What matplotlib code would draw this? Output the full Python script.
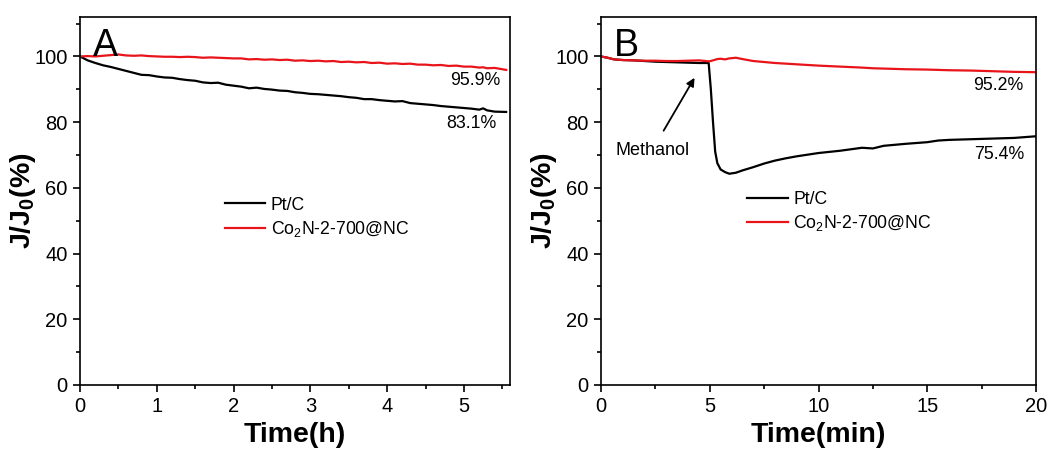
import matplotlib
matplotlib.use("Agg")
import matplotlib.pyplot as plt

plt.rcParams['font.family'] = ['Liberation Sans', 'DejaVu Sans']
plt.rcParams['mathtext.fontset'] = 'custom'
plt.rcParams['mathtext.rm'] = 'Liberation Sans'
plt.rcParams['mathtext.it'] = 'Liberation Sans:italic'
plt.rcParams['mathtext.bf'] = 'Liberation Sans:bold'

# Panel A: long-term stability (hours)
time_a = [0.0, 0.1, 0.2, 0.3, 0.4, 0.5, 0.6, 0.7, 0.8, 0.9, 1.0, 1.1, 1.2, 1.3, 1.4,
          1.5, 1.6, 1.7, 1.8, 1.9, 2.0, 2.1, 2.2, 2.3, 2.4, 2.5, 2.6, 2.7, 2.8, 2.9,
          3.0, 3.1, 3.2, 3.3, 3.4, 3.5, 3.6, 3.7, 3.8, 3.9, 4.0, 4.1, 4.2, 4.3, 4.4,
          4.5, 4.6, 4.7, 4.8, 4.9, 5.0, 5.1, 5.2, 5.25, 5.3, 5.4, 5.55]
ptc_a = [100.0, 98.8, 98.0, 97.3, 96.8, 96.2, 95.6, 95.0, 94.4, 94.3, 93.9, 93.6, 93.5,
         93.1, 92.8, 92.6, 92.1, 91.9, 92.0, 91.4, 91.1, 90.8, 90.3, 90.5, 90.1, 89.9,
         89.6, 89.5, 89.1, 88.9, 88.6, 88.5, 88.3, 88.1, 87.9, 87.6, 87.4, 87.0, 87.0,
         86.7, 86.5, 86.3, 86.4, 85.8, 85.6, 85.4, 85.2, 84.9, 84.7, 84.5, 84.3, 84.1,
         83.8, 84.2, 83.6, 83.2, 83.1]
co2n_a = [100.0, 100.1, 100.0, 100.2, 100.4, 100.6, 100.3, 100.2, 100.3, 100.1, 100.0,
          99.9, 99.9, 99.8, 99.9, 99.8, 99.6, 99.7, 99.6, 99.5, 99.4, 99.4, 99.1, 99.2,
          99.0, 99.1, 98.9, 99.0, 98.7, 98.8, 98.6, 98.7, 98.5, 98.6, 98.3, 98.4, 98.2,
          98.3, 98.0, 98.1, 97.8, 97.9, 97.7, 97.8, 97.5, 97.5, 97.3, 97.4, 97.1, 97.2,
          96.9, 96.9, 96.6, 96.7, 96.4, 96.5, 95.9]

# Panel B: methanol tolerance (minutes)
time_b = [0.0, 0.3, 0.6, 1.0, 1.5, 2.0, 2.5, 3.0, 3.5, 4.0, 4.5, 4.95, 5.05, 5.15,
          5.25, 5.35, 5.5, 5.7, 5.9, 6.2, 6.5, 7.0, 7.5, 8.0, 8.5, 9.0, 9.5, 10.0,
          11.0, 12.0, 12.5, 13.0, 14.0, 15.0, 15.5, 16.0, 17.0, 18.0, 19.0, 20.0]
ptc_b = [100.0, 99.6, 99.1, 98.9, 98.8, 98.6, 98.4, 98.3, 98.2, 98.1, 98.0, 98.0, 90.0,
         80.0, 71.0, 67.5, 65.6, 64.8, 64.3, 64.6, 65.3, 66.3, 67.4, 68.3, 69.0, 69.6,
         70.1, 70.6, 71.3, 72.2, 72.0, 72.8, 73.4, 73.9, 74.4, 74.6, 74.8, 75.0, 75.2,
         75.7]
co2n_b = [100.0, 99.6, 99.1, 98.9, 98.8, 98.7, 98.7, 98.6, 98.6, 98.7, 98.8, 98.5, 98.6,
          98.8, 99.0, 99.2, 99.3, 99.1, 99.4, 99.6, 99.2, 98.6, 98.3, 98.0, 97.8, 97.6,
          97.4, 97.2, 96.9, 96.6, 96.4, 96.3, 96.1, 96.0, 95.9, 95.8, 95.7, 95.5, 95.3,
          95.2]

final_a = ["95.9%", "83.1%"]
final_b = ["95.2%", "75.4%"]
series_names = ["Pt/C", "Co$_2$N-2-700@NC"]

fig = plt.figure(figsize=(10.51, 4.53), dpi=100)
ax_a = fig.add_axes([80 / 1051, 68 / 453, 430 / 1051, 368 / 453])
ax_b = fig.add_axes([601 / 1051, 68 / 453, 435 / 1051, 368 / 453])


def style_axis(ax, xmax, xmajor, xminor, xlabel, letter):
    ax.set_ylim(0, 112)
    ax.set_xlim(0, xmax)
    ax.set_yticks(range(0, 101, 20))
    ax.set_yticks(range(10, 111, 20), minor=True)
    ax.set_xticks(xmajor)
    ax.set_xticks(xminor, minor=True)
    ax.tick_params(which='both', direction='out', top=False, right=False,
                   labelsize=14.5, width=1.2, pad=4)
    ax.tick_params(which='major', length=5)
    ax.tick_params(which='minor', length=3)
    for s in ax.spines.values():
        s.set_linewidth(1.2)
    ax.set_xlabel(xlabel, fontsize=20.5, fontweight='bold', labelpad=4)
    ax.set_ylabel(r'$\mathbf{J/J_0(\%)}$', fontsize=20.5, labelpad=-3)
    ax.text(0.03, 0.97, letter, transform=ax.transAxes, fontsize=27,
            va='top', ha='left')


ax_a.plot(time_a, ptc_a, color='black', lw=1.6, label=series_names[0])
ax_a.plot(time_a, co2n_a, color='#e8141a', lw=1.6, label=series_names[1])
style_axis(ax_a, 5.6, range(0, 6), [0.5 + i for i in range(6)], 'Time(h)', 'A')
ax_a.text(5.15, 92.7, final_a[0], fontsize=12.8, ha='center', va='center')
ax_a.text(5.1, 79.6, final_a[1], fontsize=12.8, ha='center', va='center')
ax_a.legend(loc='upper left', bbox_to_anchor=(0.3, 0.555), frameon=False,
            fontsize=12.7, handlelength=2.3, handletextpad=0.3, labelspacing=0.3)

ax_b.plot(time_b, ptc_b, color='black', lw=1.6, label=series_names[0])
ax_b.plot(time_b, co2n_b, color='#e8141a', lw=1.6, label=series_names[1])
style_axis(ax_b, 20, range(0, 21, 5), [2.5, 7.5, 12.5, 17.5], 'Time(min)', 'B')
ax_b.text(18.25, 91.0, final_b[0], fontsize=12.8, ha='center', va='center')
ax_b.text(18.3, 70.2, final_b[1], fontsize=12.8, ha='center', va='center')
ax_b.annotate('Methanol', xy=(4.3, 93.5), xytext=(2.35, 71.4), fontsize=13,
              ha='center', va='center',
              arrowprops=dict(arrowstyle='-|>', color='black', lw=1.3,
                              mutation_scale=12, shrinkA=7, shrinkB=0))
ax_b.legend(loc='upper left', bbox_to_anchor=(0.3, 0.57), frameon=False,
            fontsize=12.7, handlelength=2.3, handletextpad=0.3, labelspacing=0.3)

fig.savefig('out.png', dpi=100)
